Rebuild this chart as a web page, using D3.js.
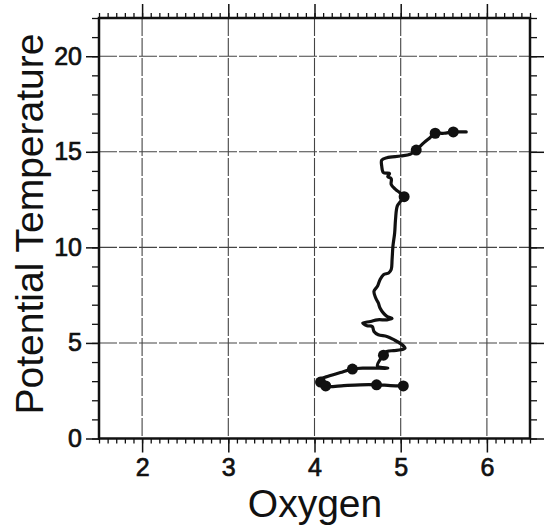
<!DOCTYPE html>
<html>
<head>
<meta charset="utf-8">
<script src="https://cdn.jsdelivr.net/npm/d3@7"></script>
<style>
  body { margin: 0; background: #fff; }
  svg { display: block; }
  .tick-label { font-family: "Liberation Sans", Arial, sans-serif; font-size: 25px; fill: #111; stroke: #111; stroke-width: 0.7px; }
  .axis-title { font-family: "Liberation Sans", Arial, sans-serif; font-size: 39px; fill: #111; }
</style>
</head>
<body>
<svg id="chart" width="550" height="529"></svg>
<script>
// Profile: oxygen vs potential temperature
const oxygen = [5.76, 5.61, 5.50, 5.40, 5.34, 5.27, 5.18, 5.11, 5.00, 4.84, 4.78, 4.78, 4.80, 4.87, 4.85, 4.89,
  4.89, 4.94, 4.99, 5.04, 5.00, 4.96, 4.94, 4.93, 4.91, 4.90, 4.89, 4.86, 4.80, 4.76, 4.73, 4.69, 4.71, 4.74,
  4.76, 4.80, 4.84, 4.90, 4.84, 4.73, 4.65, 4.56, 4.61, 4.67, 4.69, 4.74, 4.84, 4.92, 5.00, 5.05, 5.00, 4.92,
  4.84, 4.80, 4.76, 4.73, 4.85, 4.69, 4.57, 4.44, 4.30, 4.15, 4.05, 4.07, 4.15, 4.34, 4.53, 4.72, 4.88, 5.03];
const temperature = [16.04, 16.04, 15.97, 15.97, 15.74, 15.48, 15.09, 14.87, 14.78, 14.69, 14.57, 14.25, 13.91,
  13.87, 13.70, 13.59, 13.29, 13.03, 12.86, 12.65, 12.42, 12.16, 11.46, 10.76, 10.06, 9.36, 8.84, 8.66, 8.57,
  8.31, 7.96, 7.70, 7.35, 7.09, 6.83, 6.56, 6.39, 6.28, 6.21, 6.21, 6.12, 6.04, 5.90, 5.86, 5.60, 5.43, 5.34,
  5.17, 4.96, 4.73, 4.64, 4.60, 4.55, 4.36, 4.12, 3.80, 3.68, 3.68, 3.68, 3.63, 3.45, 3.24, 3.07, 2.81, 2.72,
  2.77, 2.81, 2.81, 2.77, 2.75];

// Sample markers
const markerOxygen = [5.61, 5.40, 5.18, 5.04, 4.80, 4.44, 4.07, 4.13, 4.72, 5.03];
const markerTemp = [16.04, 15.97, 15.09, 12.65, 4.36, 3.63, 2.95, 2.75, 2.81, 2.75];

const xTicks = [2, 3, 4, 5, 6];
const yTicks = [0, 5, 10, 15, 20];
const yGrid = [5, 10, 15, 20];

const svg = d3.select("#chart");
const plot = { left: 99, right: 530, top: 18, bottom: 438.5 };

const x = d3.scaleLinear().domain([1.5, 6.5]).range([plot.left, plot.right]);
const y = d3.scaleLinear().domain([0, 22]).range([plot.bottom, plot.top]);

// Grid lines
svg.append("g").selectAll("line")
  .data(xTicks)
  .enter().append("line")
  .attr("x1", d => x(d)).attr("x2", d => x(d))
  .attr("y1", plot.top).attr("y2", plot.bottom)
  .attr("stroke", "#444").attr("stroke-width", 1.1)
  .attr("stroke-dasharray", "18 2");

svg.append("g").selectAll("line")
  .data(yGrid)
  .enter().append("line")
  .attr("x1", plot.left).attr("x2", plot.right)
  .attr("y1", d => y(d)).attr("y2", d => y(d))
  .attr("stroke", "#444").attr("stroke-width", 1.1)
  .attr("stroke-dasharray", "18 2");

// Axes: outward ticks, minor every 0.1 on x, every 1 on y
const xMinor = d3.range(15, 66).map(d => d / 10);
const yMinor = d3.range(0, 23);

function styleTicks(g, w) {
  g.selectAll("line").attr("stroke", "#111").attr("stroke-width", w);
}

svg.append("g")
  .attr("transform", `translate(0,${plot.bottom})`)
  .call(d3.axisBottom(x).tickValues(xMinor).tickSize(5).tickFormat(""))
  .call(g => styleTicks(g, 1.3));
svg.append("g")
  .attr("transform", `translate(0,${plot.bottom})`)
  .call(d3.axisBottom(x).tickValues(xTicks).tickSize(14).tickPadding(6).tickFormat(d3.format("d")))
  .call(g => styleTicks(g, 1.5))
  .call(g => g.selectAll("text").attr("class", "tick-label"));

svg.append("g")
  .attr("transform", `translate(0,${plot.top})`)
  .call(d3.axisTop(x).tickValues(xMinor).tickSize(5).tickFormat(""))
  .call(g => styleTicks(g, 1.3));
svg.append("g")
  .attr("transform", `translate(0,${plot.top})`)
  .call(d3.axisTop(x).tickValues(xTicks).tickSize(14).tickFormat(""))
  .call(g => styleTicks(g, 1.5));

svg.append("g")
  .attr("transform", `translate(${plot.left},0)`)
  .call(d3.axisLeft(y).tickValues(yMinor).tickSize(7).tickFormat(""))
  .call(g => styleTicks(g, 1.3));
svg.append("g")
  .attr("transform", `translate(${plot.left},0)`)
  .call(d3.axisLeft(y).tickValues(yTicks).tickSize(13).tickPadding(4).tickFormat(d3.format("d")))
  .call(g => styleTicks(g, 1.5))
  .call(g => g.selectAll("text").attr("class", "tick-label"));

svg.append("g")
  .attr("transform", `translate(${plot.right},0)`)
  .call(d3.axisRight(y).tickValues(yMinor).tickSize(7).tickFormat(""))
  .call(g => styleTicks(g, 1.3));
svg.append("g")
  .attr("transform", `translate(${plot.right},0)`)
  .call(d3.axisRight(y).tickValues(yTicks).tickSize(14).tickFormat(""))
  .call(g => styleTicks(g, 1.5));

svg.selectAll(".domain").remove();

// Frame
svg.append("rect")
  .attr("x", plot.left).attr("y", plot.top)
  .attr("width", plot.right - plot.left).attr("height", plot.bottom - plot.top)
  .attr("fill", "none").attr("stroke", "#111").attr("stroke-width", 2.5);

// Profile line
const line = d3.line()
  .x((d, i) => x(oxygen[i]))
  .y((d, i) => y(temperature[i]))
  .curve(d3.curveCatmullRom.alpha(0.5));

svg.append("path")
  .datum(oxygen)
  .attr("d", line)
  .attr("fill", "none")
  .attr("stroke", "#111")
  .attr("stroke-width", 3.2)
  .attr("stroke-linejoin", "round")
  .attr("stroke-linecap", "round");

svg.append("g").selectAll("circle")
  .data(markerOxygen)
  .enter().append("circle")
  .attr("cx", d => x(d))
  .attr("cy", (d, i) => y(markerTemp[i]))
  .attr("r", 5.5)
  .attr("fill", "#111");

// Axis titles
svg.append("text")
  .attr("class", "axis-title")
  .attr("x", 315).attr("y", 517)
  .attr("text-anchor", "middle")
  .text("Oxygen");

svg.append("text")
  .attr("class", "axis-title")
  .attr("transform", "translate(43,224) rotate(-90)")
  .attr("text-anchor", "middle")
  .text("Potential Temperature");
</script>
</body>
</html>
